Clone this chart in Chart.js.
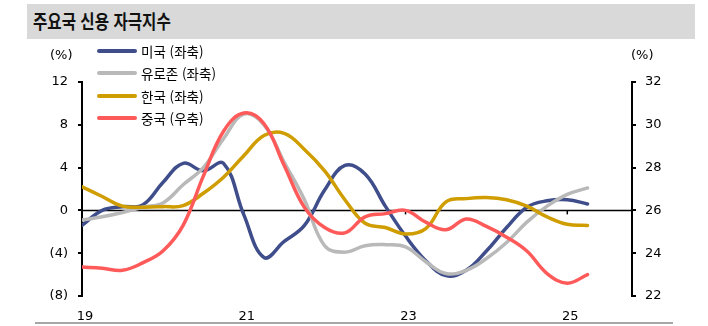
<!DOCTYPE html>
<html lang="ko">
<head>
<meta charset="utf-8">
<script src="https://cdn.jsdelivr.net/npm/chart.js@4/dist/chart.umd.min.js"></script>
<style>
  body { margin: 0; background: #fff; }
  #wrap { position: relative; width: 708px; height: 326px; overflow: hidden; font-family: "Noto Sans CJK KR", "Noto Sans", sans-serif; }
  #titleBar { position: absolute; left: 27px; top: 4px; width: 668px; height: 35px; background: #d9d9d9; }
  #titleBar span { position: absolute; left: 6px; top: 3px; font-size: 19px; font-weight: bold; color: #111; white-space: nowrap; transform: scaleX(0.82); transform-origin: left center; }
  .unit { position: absolute; top: 47px; font-family: "DejaVu Sans", sans-serif; font-size: 13px; color: #000; }
  #legend { position: absolute; left: 97px; top: 40px; }
  .lg-row { display: flex; align-items: center; height: 22.3px; font-size: 13.5px; color: #000; white-space: nowrap; }
  .lg-line { width: 40px; height: 4px; border-radius: 2px; margin-right: 4px; }
  #bottomRule { position: absolute; left: 35px; top: 322px; width: 638px; height: 2px; background: #a6a6a6; }
  canvas { position: absolute; left: 0; top: 0; }
</style>
</head>
<body>
<div id="wrap">
  <canvas id="impulseChart" width="708" height="326"></canvas>
  <div id="titleBar"><span>주요국 신용 자극지수</span></div>
  <div class="unit" style="left:50px">(%)</div>
  <div class="unit" style="left:631px">(%)</div>
  <div id="legend"></div>
  <div id="bottomRule"></div>
</div>
<script>
// quarterly credit impulse, 2019Q1 ~ 2025Q2
const quarters = [
  '2019Q1', '2019Q2', '2019Q3', '2019Q4',
  '2020Q1', '2020Q2', '2020Q3', '2020Q4',
  '2021Q1', '2021Q2', '2021Q3', '2021Q4',
  '2022Q1', '2022Q2', '2022Q3', '2022Q4',
  '2023Q1', '2023Q2', '2023Q3', '2023Q4',
  '2024Q1', '2024Q2', '2024Q3', '2024Q4',
  '2025Q1', '2025Q2'
];
const usImpulse = [
  -1.4, 0.0, 0.35, 0.5, 2.6, 4.4, 3.7, 4.4,
  -0.4, -4.4, -2.9, -1.4, 1.9, 4.2, 3.4, 0.4,
  -2.4, -4.7, -6.1, -5.6, -3.8, -1.6, 0.3, 0.9,
  1.0, 0.6
];
const euImpulse = [
  -0.9, -0.6, -0.2, 0.3, 0.7, 2.4, 4.0, 6.7,
  9.0, 8.0, 4.5, 1.0, -3.3, -3.9, -3.3, -3.2,
  -3.4, -4.8, -5.9, -5.6, -4.5, -3.0, -1.1, 0.4,
  1.5, 2.1
];
const krImpulse = [
  2.2, 1.3, 0.4, 0.3, 0.35, 0.45, 1.6, 3.1,
  5.1, 7.0, 7.2, 5.7, 3.7, 1.0, -1.2, -1.6,
  -2.2, -1.7, 0.8, 1.1, 1.2, 1.0, 0.4, -0.6,
  -1.3, -1.4
];
const cnImpulse = [
  23.35, 23.3, 23.2, 23.55, 24.1, 25.3, 27.6, 29.7,
  30.55, 30.05, 28.1, 26.14, 25.2, 24.95, 25.7, 25.85,
  26.0, 25.45, 25.1, 25.6, 25.25, 24.75, 24.1, 23.05,
  22.6, 23.0
];
const yearLabels = ['19', '21', '23', '25'];

const seriesNames = ['미국 (좌축)', '유로존 (좌축)', '한국 (좌축)', '중국 (우축)'];
const seriesColors = ['#3f4e8b', '#b9b9b9', '#cf9d00', '#ff5a5a'];

const toPoints = arr => arr.map((v, i) => ({ x: i, y: v }));
const tickFont = { family: 'DejaVu Sans', size: 13 };

// zero line across the plot, with small year ticks hanging below it
const zeroLinePlugin = {
  id: 'zeroLine',
  beforeDatasetsDraw(chart) {
    const { ctx, chartArea, scales } = chart;
    const y0 = scales.y.getPixelForValue(0);
    ctx.save();
    ctx.strokeStyle = '#000';
    ctx.lineWidth = 1.5;
    ctx.beginPath();
    ctx.moveTo(chartArea.left, y0);
    ctx.lineTo(chartArea.right, y0);
    ctx.stroke();
    scales.x.ticks.forEach(t => {
      const x = scales.x.getPixelForValue(t.value);
      ctx.beginPath();
      ctx.moveTo(x, y0);
      ctx.lineTo(x, y0 + 4);
      ctx.stroke();
    });
    ctx.restore();
  }
};

const makeSet = (idx, arr, axis, order) => ({
  label: seriesNames[idx],
  data: toPoints(arr),
  yAxisID: axis,
  borderColor: seriesColors[idx],
  backgroundColor: seriesColors[idx],
  borderWidth: 3.5,
  borderCapStyle: 'round',
  borderJoinStyle: 'round',
  pointRadius: 0,
  tension: 0.4,
  order: order
});

const chart = new Chart(document.getElementById('impulseChart'), {
  type: 'line',
  data: {
    datasets: [
      makeSet(0, usImpulse, 'y', 4),
      makeSet(1, euImpulse, 'y', 3),
      makeSet(2, krImpulse, 'y', 2),
      makeSet(3, cnImpulse, 'y1', 1)
    ]
  },
  options: {
    responsive: false,
    animation: false,
    layout: { padding: { top: 82, left: 0, right: 0, bottom: 0 } },
    plugins: {
      legend: { display: false },
      tooltip: { enabled: false }
    },
    scales: {
      x: {
        type: 'linear',
        min: 0,
        max: 27.2,
        grid: { display: false },
        border: { display: false },
        ticks: {
          stepSize: 8,
          color: '#000',
          font: tickFont,
          padding: 5,
          labelOffset: 3,
          maxRotation: 0,
          callback: v => yearLabels[v / 8]
        },
        afterFit: s => { s.height = 30; }
      },
      y: {
        position: 'left',
        min: -8,
        max: 12,
        grid: { drawOnChartArea: false, drawTicks: true, tickLength: 4, color: '#000', lineWidth: 2 },
        border: { display: true, color: '#000', width: 2 },
        ticks: {
          stepSize: 4,
          color: '#000',
          font: tickFont,
          padding: 10,
          callback: v => v < 0 ? '(' + Math.abs(v) + ')' : String(v)
        },
        afterFit: s => { s.width = 82; }
      },
      y1: {
        position: 'right',
        min: 22,
        max: 32,
        grid: { drawOnChartArea: false, drawTicks: true, tickLength: 4, color: '#000', lineWidth: 2 },
        border: { display: true, color: '#000', width: 2 },
        ticks: {
          stepSize: 2,
          color: '#000',
          font: tickFont,
          padding: 9
        },
        afterFit: s => { s.width = 76; }
      }
    }
  },
  plugins: [zeroLinePlugin]
});

// legend rows built from the chart's own datasets
const legendEl = document.getElementById('legend');
chart.data.datasets.forEach(ds => {
  const row = document.createElement('div');
  row.className = 'lg-row';
  const line = document.createElement('span');
  line.className = 'lg-line';
  line.style.background = ds.borderColor;
  const text = document.createElement('span');
  text.textContent = ds.label;
  row.appendChild(line);
  row.appendChild(text);
  legendEl.appendChild(row);
});
</script>
</body>
</html>
